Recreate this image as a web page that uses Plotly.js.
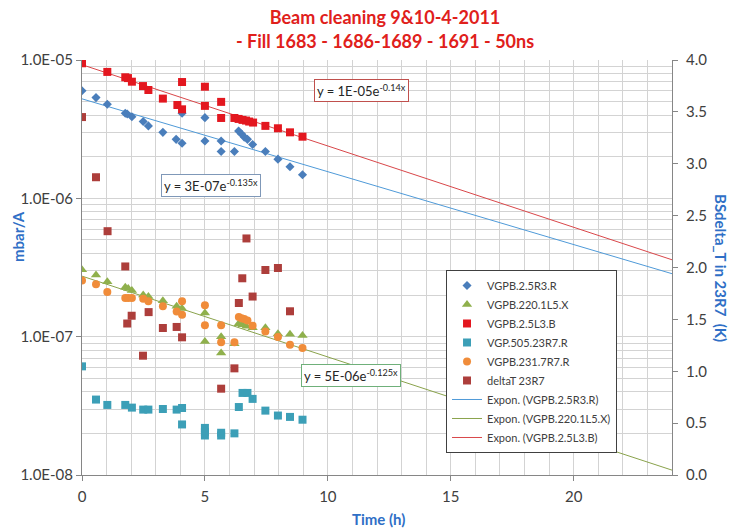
<!DOCTYPE html>
<html><head><meta charset="utf-8">
<script src="https://cdn.plot.ly/plotly-3.0.1.min.js"></script>
<style>html,body{margin:0;padding:0;background:#fff}</style>
</head><body><div id="chart" style="width:732px;height:528px"></div>
<script>
// ---- data ----
const timeR3 = [0, 0.57, 1.03, 1.76, 1.84, 2.03, 2.49, 2.7, 3.29, 3.83, 4.07, 4.07, 5.0, 5.0, 5.66, 5.66, 6.2, 6.37, 6.49, 6.6, 6.73, 6.94, 7.46, 7.97, 8.46, 8.97];
const valR3 = [6.0e-6, 5.35e-6, 4.79e-6, 4.12e-6, 4.07e-6, 3.89e-6, 3.59e-6, 3.34e-6, 3.0e-6, 2.67e-6, 2.5e-6, 4.12e-6, 3.83e-6, 2.6e-6, 2.6e-6, 2.18e-6, 2.18e-6, 3.07e-6, 2.92e-6, 2.77e-6, 2.67e-6, 2.45e-6, 2.18e-6, 1.92e-6, 1.69e-6, 1.48e-6];

const timeL5 = [0, 0.57, 1.03, 1.76, 1.88, 2.03, 2.49, 2.7, 3.29, 3.85, 4.07, 5.0, 5.0, 5.66, 5.66, 6.2, 6.37, 6.53, 6.69, 6.94, 7.46, 7.97, 8.46, 8.97];
const valL5 = [3.05e-7, 2.79e-7, 2.49e-7, 2.28e-7, 2.23e-7, 2.16e-7, 2.0e-7, 1.95e-7, 1.82e-7, 1.66e-7, 1.6e-7, 1.48e-7, 9.24e-8, 1.0e-7, 7.62e-8, 8.9e-8, 1.24e-7, 1.22e-7, 1.19e-7, 1.16e-7, 1.16e-7, 1.05e-7, 1.04e-7, 1.02e-7];

const timeL3 = [0, 1.03, 1.76, 1.87, 2.03, 2.48, 2.7, 3.29, 3.88, 4.07, 4.07, 5.0, 5.0, 5.66, 5.66, 6.2, 6.37, 6.53, 6.67, 6.8, 6.96, 7.46, 7.97, 8.46, 8.97];
const valL3 = [9.47e-6, 8.2e-6, 7.5e-6, 7.4e-6, 6.97e-6, 6.48e-6, 6.07e-6, 5.26e-6, 4.73e-6, 4.4e-6, 6.93e-6, 6.41e-6, 4.66e-6, 4.98e-6, 3.81e-6, 3.81e-6, 3.75e-6, 3.69e-6, 3.65e-6, 3.59e-6, 3.53e-6, 3.34e-6, 3.21e-6, 3.0e-6, 2.79e-6];

const time505 = [0, 0.57, 1.03, 1.76, 2.03, 2.49, 2.7, 3.29, 3.85, 4.07, 4.07, 5.0, 5.0, 5.0, 5.66, 5.66, 6.2, 6.38, 6.53, 6.73, 6.94, 7.46, 7.97, 8.46, 8.97];
const val505 = [6.1e-8, 3.51e-8, 3.21e-8, 3.21e-8, 3.07e-8, 2.97e-8, 2.97e-8, 3.0e-8, 2.97e-8, 3.05e-8, 2.32e-8, 2.19e-8, 2.05e-8, 1.93e-8, 2.02e-8, 1.93e-8, 2.0e-8, 3.1e-8, 3.92e-8, 3.92e-8, 3.55e-8, 2.92e-8, 2.69e-8, 2.63e-8, 2.51e-8];

const time231 = [0, 0.57, 1.03, 1.76, 1.88, 2.03, 2.49, 2.7, 3.29, 3.85, 4.07, 4.07, 5.0, 5.0, 5.66, 5.66, 6.2, 6.38, 6.49, 6.6, 6.73, 6.94, 7.46, 7.97, 8.46, 8.97];
const val231 = [2.55e-7, 2.39e-7, 2.1e-7, 1.9e-7, 1.9e-7, 1.9e-7, 1.88e-7, 1.8e-7, 1.66e-7, 1.52e-7, 1.8e-7, 1.44e-7, 1.69e-7, 1.21e-7, 1.21e-7, 9.1e-8, 9.1e-8, 1.39e-7, 1.36e-7, 1.34e-7, 1.31e-7, 1.2e-7, 1.09e-7, 9.95e-8, 8.75e-8, 8.28e-8];

const timeDT = [0, 0.57, 1.04, 1.76, 1.84, 2.02, 2.48, 2.71, 3.29, 3.85, 4.07, 5.66, 6.2, 6.38, 6.52, 6.69, 6.94, 7.46, 7.97, 8.46];
const valDT = [3.45, 2.87, 2.35, 2.01, 1.46, 1.535, 1.15, 1.57, 1.417, 1.427, 1.327, 0.832, 1.028, 1.658, 1.896, 2.28, 1.72, 1.976, 1.995, 1.578];

const seriesNames = ['VGPB.2.5R3.R', 'VGPB.220.1L5.X', 'VGPB.2.5L3.B', 'VGP.505.23R7.R', 'VGPB.231.7R7.R', 'deltaT 23R7'];
const trendNames = ['Expon. (VGPB.2.5R3.R)', 'Expon. (VGPB.220.1L5.X)', 'Expon. (VGPB.2.5L3.B)'];
const eqTexts = ['y = 5E-06e<sup>-0.125x</sup>', 'y = 3E-07e<sup>-0.135x</sup>', 'y = 1E-05e<sup>-0.14x</sup>'];
const xTicks = [0, 5, 10, 15, 20];
const yTicks = [1e-8, 1e-7, 1e-6, 1e-5];
const yTickText = ['1.0E-08', '1.0E-07', '1.0E-06', '1.0E-05'];
const y2Ticks = [0, 0.5, 1, 1.5, 2, 2.5, 3, 3.5, 4];

// ---- exponential least-squares fit (as a spreadsheet trendline) ----
function expFit(xs, ys) {
  const n = xs.length; let sx = 0, sy = 0, sxx = 0, sxy = 0;
  for (let i = 0; i < n; i++) { const l = Math.log(ys[i]); sx += xs[i]; sy += l; sxx += xs[i]*xs[i]; sxy += xs[i]*l; }
  const b = (n*sxy - sx*sy) / (n*sxx - sx*sx);
  const a = (sy - b*sx) / n;
  return x => Math.exp(a + b*x);
}
const trendX = []; for (let t = 0; t <= 24; t += 1) trendX.push(t);
function trend(xs, ys) { const f = expFit(xs, ys); return trendX.map(f); }

const FONT = 'Lato, "Open Sans", sans-serif';
const C = {blue:'#4a7ebb', green:'#8fb04c', red:'#e3171f', teal:'#3c9fb7', orange:'#f08c3a', brown:'#ad3e3b',
           tBlue:'#4f9ad8', tGreen:'#8aa34c', tRed:'#d9474a'};

const traces = [
  {x: trendX, y: trend(timeR3, valR3), name: trendNames[0], mode:'lines', line:{color:C.tBlue, width:1}, legendrank: 7},
  {x: trendX, y: trend(timeL5, valL5), name: trendNames[1], mode:'lines', line:{color:C.tGreen, width:1}, legendrank: 8},
  {x: trendX, y: trend(timeL3, valL3), name: trendNames[2], mode:'lines', line:{color:C.tRed, width:1}, legendrank: 9},
  {x: timeR3, y: valR3, name: seriesNames[0], mode:'markers', marker:{symbol:'diamond', size:7, color:C.blue}, legendrank: 1},
  {x: timeL5, y: valL5, name: seriesNames[1], mode:'markers', marker:{symbol:'triangle-up', size:9, color:C.green}, legendrank: 2},
  {x: timeL3, y: valL3, name: seriesNames[2], mode:'markers', marker:{symbol:'square', size:8, color:C.red}, legendrank: 3},
  {x: time505, y: val505, name: seriesNames[3], mode:'markers', marker:{symbol:'square', size:8, color:C.teal}, legendrank: 4},
  {x: time231, y: val231, name: seriesNames[4], mode:'markers', marker:{symbol:'circle', size:8, color:C.orange}, legendrank: 5},
  {x: timeDT, y: valDT, name: seriesNames[5], mode:'markers', yaxis:'y2', marker:{symbol:'square', size:8, color:C.brown}, legendrank: 6}
];

const minorLog = [];
for (let e = -8; e < -5; e++) for (let m = 2; m <= 9; m++) minorLog.push(m * Math.pow(10, e));

const axisGray = '#868686', gridGray = '#d3d3d3', tickFontC = '#404040';
const layout = {
  width: 732, height: 528,
  paper_bgcolor: '#fff', plot_bgcolor: '#fff',
  font: {family: FONT, color: tickFontC},
  margin: {l: 82, r: 60, t: 60, b: 53},
  title: {text: 'Beam cleaning 9&10-4-2011<br>- Fill 1683 - 1686-1689 - 1691 - 50ns', xref: 'container', x: 385/732, xanchor: 'center',
          yref: 'container', y: 0.954, yanchor: 'top', font: {family: FONT, size: 18, color: '#e0201b', weight: 'bold'}},
  showlegend: true,
  legend: {x: 0.617, y: 0.494, xanchor: 'left', yanchor: 'top', bgcolor: '#fff', bordercolor: '#404040', borderwidth: 1,
           font: {family: FONT, size: 11, color: '#404040'}, traceorder: 'normal'},
  xaxis: {range: [0, 24], tickvals: xTicks, ticktext: xTicks.map(String), ticks: 'outside', ticklen: 5, tickcolor: axisGray,
          ticklabelstandoff: 3,
          showline: true, linecolor: axisGray, showgrid: true, gridcolor: gridGray, zeroline: false,
          minor: {dtick: 1, showgrid: true, gridcolor: gridGray, ticks: ''},
          tickfont: {family: FONT, size: 15, color: tickFontC}},
  yaxis: {type: 'log', range: [-8, -5], tickvals: yTicks, ticktext: yTickText, ticks: 'outside', ticklen: 5, tickcolor: axisGray,
          showline: true, linecolor: axisGray, showgrid: true, gridcolor: gridGray, zeroline: false,
          minor: {tickmode: 'array', tickvals: minorLog, showgrid: true, gridcolor: gridGray, ticks: ''},
          tickfont: {family: FONT, size: 15, color: tickFontC}},
  yaxis2: {overlaying: 'y', side: 'right', range: [0, 4], tickvals: y2Ticks, tickformat: '.1f', ticks: 'outside', ticklen: 5,
           ticklabelstandoff: 5,
           tickcolor: axisGray, showline: true, linecolor: axisGray, showgrid: false, zeroline: false,
           tickfont: {family: FONT, size: 15, color: tickFontC}},
  annotations: [
    {text: '<b>mbar/A</b>', xref: 'paper', yref: 'paper', x: (18-82)/590, y: (475-237)/415, xanchor: 'center', yanchor: 'middle',
     textangle: -90, showarrow: false, font: {family: FONT, size: 15, color: '#2f6fc6'}},
    {text: '<b>BSdelta_T in 23R7  (K)</b>', xref: 'paper', yref: 'paper', x: (721-82)/590, y: (475-268)/415, xanchor: 'center', yanchor: 'middle',
     textangle: 90, showarrow: false, font: {family: FONT, size: 15, color: '#2f6fc6'}},
    {text: '<b>Time (h)</b>', xref: 'paper', yref: 'paper', x: (378-82)/590, y: (475-519)/415, xanchor: 'center', yanchor: 'middle',
     showarrow: false, font: {family: FONT, size: 15, color: '#2f6fc6'}},
    {text: eqTexts[2], xref: 'paper', yref: 'paper', x: (361-82)/590, y: (475-91)/415, xanchor: 'center', yanchor: 'middle',
     showarrow: false, bgcolor: '#fff', bordercolor: '#c0504d', borderwidth: 1, borderpad: 2, font: {family: FONT, size: 13, color: '#262626'}},
    {text: eqTexts[1], xref: 'paper', yref: 'paper', x: (211-82)/590, y: (475-185)/415, xanchor: 'center', yanchor: 'middle',
     showarrow: false, bgcolor: '#fff', bordercolor: '#7f98b8', borderwidth: 1, borderpad: 2, font: {family: FONT, size: 13, color: '#262626'}},
    {text: eqTexts[0], xref: 'paper', yref: 'paper', x: (351-82)/590, y: (475-375)/415, xanchor: 'center', yanchor: 'middle',
     showarrow: false, bgcolor: '#fff', bordercolor: '#6fb07a', borderwidth: 1, borderpad: 2, font: {family: FONT, size: 13, color: '#262626'}}
  ]
};

Plotly.newPlot('chart', traces, layout, {displayModeBar: false, responsive: false});
</script></body></html>
